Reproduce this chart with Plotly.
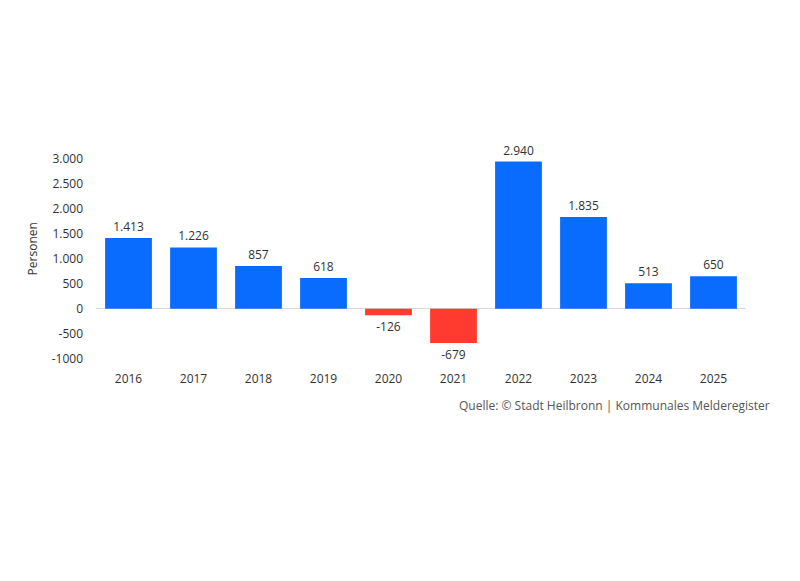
import plotly.graph_objects as go

years = ["2016", "2017", "2018", "2019", "2020", "2021", "2022", "2023", "2024", "2025"]
values = [1413, 1226, 857, 618, -126, -679, 2940, 1835, 513, 650]
tick_vals = [-1000, -500, 0, 500, 1000, 1500, 2000, 2500, 3000]
tick_text = ["-1000", "-500", "0", "500", "1.000", "1.500", "2.000", "2.500", "3.000"]

def fmt(v):
    s = f"{abs(v):,}".replace(",", ".")
    return ("-" if v < 0 else "") + s

colors = ["#0A6CFF" if v >= 0 else "#FF3B30" for v in values]

fig = go.Figure(go.Bar(
    x=years, y=values, marker=dict(color=colors, line=dict(width=0)),
    text=[fmt(v) for v in values], textposition="outside",
    textfont=dict(size=12, color="#333333"), cliponaxis=False,
))

fig.update_layout(
    width=800, height=581,
    paper_bgcolor="white", plot_bgcolor="white",
    font=dict(family="Open Sans, Noto Sans, sans-serif", size=12, color="#333333"),
    margin=dict(l=88, r=62, t=148, b=219, autoexpand=False),
    bargap=0.28,
    showlegend=False,
    xaxis=dict(showgrid=False, showline=False, ticks="", automargin=False,
               tickfont=dict(size=12, color="#333333")),
    yaxis=dict(range=[-1220, 3050], tickvals=tick_vals, ticktext=tick_text, automargin=False,
               showgrid=False, zeroline=True, zerolinecolor="#d9d9d9", zerolinewidth=1,
               ticklabelstandoff=12,
               tickfont=dict(size=12, color="#333333")),
    annotations=[
        dict(text="Quelle: © Stadt Heilbronn | Kommunales Melderegister",
             xref="paper", yref="paper", x=1.04, y=-0.1636, xanchor="right", yanchor="middle",
             showarrow=False, font=dict(size=12, color="#555555")),
        dict(text="Personen", xref="paper", yref="paper", x=-0.098, y=0.565,
             xanchor="center", yanchor="middle", textangle=-90, showarrow=False,
             font=dict(size=12, color="#333333")),
    ],
)

fig.write_html("out.html")
